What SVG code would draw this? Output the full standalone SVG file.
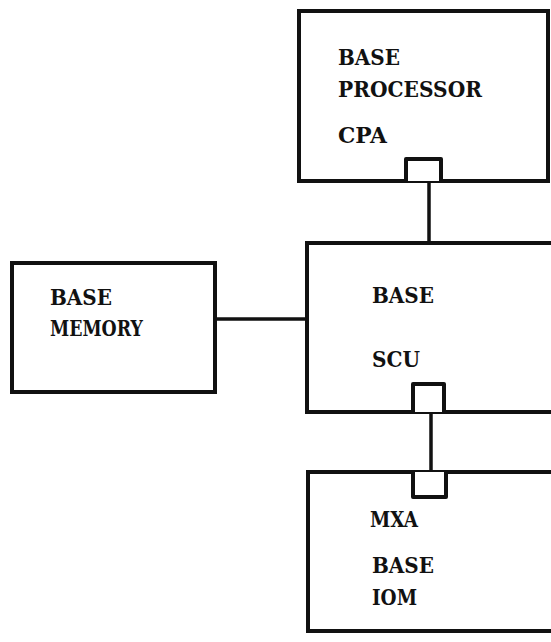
<svg xmlns="http://www.w3.org/2000/svg" width="551" height="642" viewBox="0 0 551 642">
<style>
.box{fill:#fff;stroke:#111;stroke-width:4}
.port{fill:#fff;stroke:#111;stroke-width:4;stroke-linejoin:round}
.wire{stroke:#111;stroke-width:3.5;fill:none}
.t{font-family:'DejaVu Serif',serif;font-weight:700;font-size:23px;fill:#111}
</style>
<rect width="551" height="642" fill="#fff"/>
<g id="connectors">
<line class="wire" x1="429" y1="181" x2="429" y2="243"/>
<line class="wire" x1="215" y1="319" x2="307" y2="319"/>
<line class="wire" x1="431" y1="412" x2="431" y2="472"/>
</g>
<g id="cpa">
<rect class="box" x="299" y="11" width="249" height="170"/>
<path class="port" d="M406 181 V159 H441 V181"/>
<text class="t" x="338" y="65" textLength="62" lengthAdjust="spacingAndGlyphs">BASE</text>
<text class="t" x="338" y="97" textLength="144" lengthAdjust="spacingAndGlyphs">PROCESSOR</text>
<text class="t" x="338" y="143" textLength="49" lengthAdjust="spacingAndGlyphs">CPA</text>
</g>
<g id="scu">
<rect class="box" x="307" y="243" width="250" height="169"/>
<path class="port" d="M413 412 V384 H444 V412"/>
<text class="t" x="372" y="303" textLength="62" lengthAdjust="spacingAndGlyphs">BASE</text>
<text class="t" x="372" y="367" textLength="48" lengthAdjust="spacingAndGlyphs">SCU</text>
</g>
<g id="memory">
<rect class="box" x="12" y="263" width="203" height="129"/>
<text class="t" x="50" y="305" textLength="62" lengthAdjust="spacingAndGlyphs">BASE</text>
<text class="t" x="50" y="336" textLength="93" lengthAdjust="spacingAndGlyphs">MEMORY</text>
</g>
<g id="iom">
<rect class="box" x="308" y="472" width="250" height="159"/>
<path class="port" d="M413 472 V497 H446 V472"/>
<text class="t" x="370" y="527" textLength="48" lengthAdjust="spacingAndGlyphs">MXA</text>
<text class="t" x="372" y="573" textLength="62" lengthAdjust="spacingAndGlyphs">BASE</text>
<text class="t" x="372" y="605" textLength="45" lengthAdjust="spacingAndGlyphs">IOM</text>
</g>
</svg>
